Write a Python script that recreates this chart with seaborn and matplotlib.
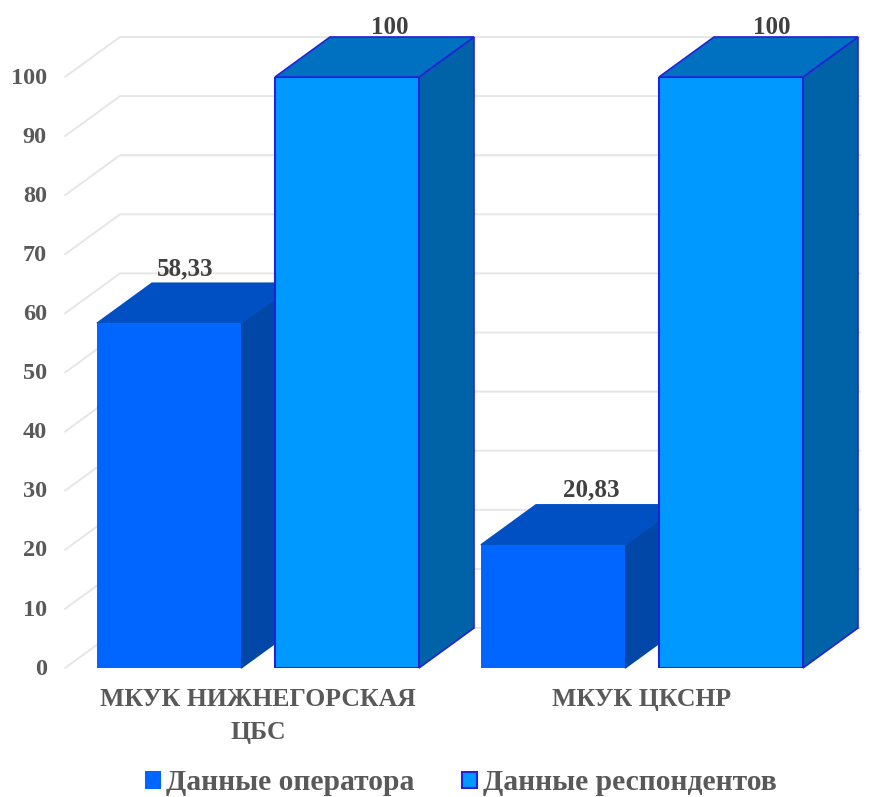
import matplotlib
matplotlib.use('Agg')
import matplotlib.pyplot as plt
from matplotlib.patches import Polygon
from matplotlib.transforms import ScaledTranslation
import seaborn as sns
import pandas as pd

categories = ['МКУК НИЖНЕГОРСКАЯ\nЦБС', 'МКУК ЦКСНР']
series_names = ['Данные оператора', 'Данные респондентов']
operator_values = [58.33, 20.83]
respondent_values = [100, 100]
value_labels = [['58,33', '20,83'], ['100', '100']]
y_ticks = list(range(0, 101, 10))

front_colors = ['#0066FF', '#0099FF']
side_colors = ['#0047A8', '#0063A8']
top_colors = ['#0050C4', '#0070C0']
edge_colors = ['#0066FF', '#2222D8']
text_color = '#595959'

W, H = 875, 797
# front plane of the fake 3d box, in pixels
left, right, top, bottom = 65, 805, 77, 668
cat_px = 384.0
cat0_px = 258.0
depth_x = 55 / cat_px
depth_y = 40 / ((bottom - top) / 100)

sns.set_theme(style='white')
plt.rcParams['font.family'] = ['Liberation Serif', 'DejaVu Serif']
plt.rcParams['font.weight'] = 'bold'

df = pd.DataFrame({
    'category': categories * 2,
    'series': [series_names[0]] * 2 + [series_names[1]] * 2,
    'value': operator_values + respondent_values,
})

fig = plt.figure(figsize=(W / 100, H / 100), dpi=100)
ax = fig.add_axes([left / W, 1 - bottom / H, (right - left) / W, (bottom - top) / H])
sns.barplot(data=df, x='category', y='value', hue='series', hue_order=series_names,
            width=0.927, gap=0.191, palette=front_colors, saturation=1, legend=False, ax=ax, zorder=3)

ax.set_xlim((left - cat0_px) / cat_px, (right - cat0_px) / cat_px)
ax.set_ylim(0, 100)
ax.set_xlabel('')
ax.set_ylabel('')
sns.despine(ax=ax, left=True, bottom=True)
ax.set_yticks(y_ticks)
ax.tick_params(axis='y', length=0, pad=13, labelsize=17.5, labelcolor=text_color)
ax.tick_params(axis='x', length=0, pad=14.5, labelsize=18.5, labelcolor=text_color)
for lab in ax.get_xticklabels():
    lab.set_linespacing(1.55)
# reference tick labels sit a little above their gridlines
shift = ScaledTranslation(0, 1 / 72, fig.dpi_scale_trans)
for lab in ax.get_yticklabels():
    lab.set_transform(lab.get_transform() + shift)

# back wall gridlines
x0 = ax.get_xlim()[0]
x_end = (860 - cat0_px) / cat_px
for t in y_ticks:
    ax.plot([x0, x0 + depth_x, x_end], [t, t + depth_y, t + depth_y],
            color='#E6E6E6', lw=1.4, clip_on=False, zorder=1)

# side and top faces
label_offsets = [[(16, 54), (38, 55)], [(43, 50), (41, 50)]]
for i, container in enumerate(ax.containers):
    for j, bar in enumerate(container):
        xa = bar.get_x()
        xb = xa + bar.get_width()
        h = bar.get_height()
        z = 3 + i
        bar.set_edgecolor(edge_colors[i])
        bar.set_linewidth(1.5 if i else 0)
        bar.set_zorder(z + 0.2)
        ax.add_patch(Polygon([(xb, 0), (xb + depth_x, depth_y), (xb + depth_x, h + depth_y), (xb, h)],
                             facecolor=side_colors[i], edgecolor=edge_colors[i] if i else side_colors[i],
                             lw=1.2, clip_on=False, zorder=z))
        ax.add_patch(Polygon([(xa, h), (xa + depth_x, h + depth_y), (xb + depth_x, h + depth_y), (xb, h)],
                             facecolor=top_colors[i], edgecolor=edge_colors[i] if i else top_colors[i],
                             lw=1.2, clip_on=False, zorder=z))
        dx, dy = label_offsets[i][j]
        ax.annotate(value_labels[i][j], ((xa + xb) / 2, h), xytext=(dx * 0.72, dy * 0.72),
                    textcoords='offset points', ha='center', va='center', fontsize=18,
                    color='#404040', annotation_clip=False, zorder=9)

handles = [plt.Rectangle((0, 0), 1, 1, facecolor=front_colors[i], edgecolor=edge_colors[i], lw=1.5)
           for i in range(2)]
fig.legend(handles, series_names, loc='center', bbox_to_anchor=(461 / W, 1 - 783 / H), ncol=2,
           frameon=False, handlelength=0.5, handleheight=0.5, handletextpad=0.2, columnspacing=1.6,
           borderpad=0, labelcolor=text_color, prop={'size': 21.3, 'weight': 'bold'})

fig.savefig('out.png', dpi=100)
